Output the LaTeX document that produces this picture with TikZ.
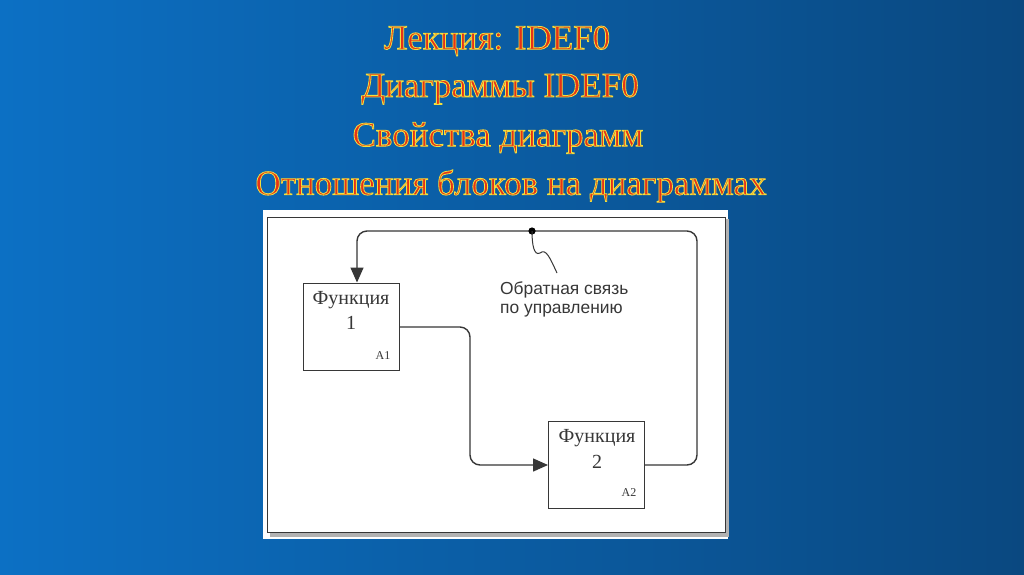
\documentclass[tikz,border=0pt]{standalone}
\usepackage{fontspec}
\setmainfont{Liberation Serif}
\newfontfamily\labelfont{Liberation Sans}
\usetikzlibrary{arrows.meta}

\definecolor{bgleft}{RGB}{12,112,196}
\definecolor{bgright}{RGB}{10,72,128}
\definecolor{titlered}{RGB}{230,50,22}
\definecolor{inkgray}{RGB}{55,55,55}

% red letters with a thin yellow outline (text render mode 2)
\newcommand\outlined[1]{\special{pdf:literal direct 2 Tr 0.8 w 0.95 0.88 0.24 RG}#1\special{pdf:literal direct 0 Tr}}

\begin{document}
\begin{tikzpicture}[
    x=1pt, y=-1pt,
    title/.style={font=\fontsize{35}{40}\selectfont, text=titlered, inner sep=0pt},
    block/.style={draw=inkgray, line width=1pt, fill=white, minimum width=96pt, minimum height=87pt, inner sep=0pt},
    blocktext/.style={font=\fontsize{20}{22}\selectfont, text=inkgray, inner sep=0pt},
    blockid/.style={font=\fontsize{12}{14}\selectfont, text=inkgray, inner sep=0pt},
    arrowline/.style={draw=inkgray, line width=1.4pt, rounded corners=10pt},
    tip/.style={-{Triangle[length=15pt,width=13pt]}}
]
\useasboundingbox (0,0) rectangle (1024,574);
\shade[left color=bgleft, right color=bgright] (0,0) rectangle (1024,574);

% titles
\node[title] (t1) at (497,41) {\outlined{Лекция: IDEF0}};
\node[title] (t2) at (500,89) {\outlined{Диаграммы IDEF0}};
\node[title] (t3) at (498,138) {\outlined{Свойства диаграмм}};
\node[title] (t4) at (511,186) {\outlined{Отношения блоков на диаграммах}};

% white sheet with frame
\fill[white] (263,210) rectangle (728,539);
\fill[gray!60] (270,532) rectangle (727,537);
\fill[gray!60] (725,219) rectangle (729,537);
\draw[inkgray, line width=1pt] (267,217) rectangle (725,532);

% blocks
\node[block] (f1) at (351,326.5) {};
\node[block] (f2) at (596.5,465) {};

\node[blocktext] (f1a) at (351,300) {Функция};
\node[blocktext] (f1b) at (351,323) {1};
\node[blockid] (f1c) at (383,356) {A1};
\node[blocktext] (f2a) at (597,438) {Функция};
\node[blocktext] (f2b) at (597,462) {2};
\node[blockid] (f2c) at (629,493) {A2};

% connectors
\coordinate (out1) at (f1.east |- 0,327);
\coordinate (in2) at (f2.west |- 0,465);
\coordinate (out2) at (f2.east |- 0,465);
\coordinate (in1) at (f1.north -| 357,0);
\coordinate (tap) at (532,231);

\draw[arrowline, tip] (out1) -- (470,327) -- (470,465) -- (in2);
\draw[arrowline, tip] (out2) -- (697,465) -- (697,231) -- (357,231) -- (in1);

\fill[black] (tap) circle (3.6pt);
\draw[inkgray, line width=1pt] (tap) .. controls (532,245) and (534,256) .. (540,253)
    .. controls (546,248) and (550,258) .. (557,273);

\node[font=\labelfont\fontsize{17.4}{19}\selectfont, text=inkgray, align=left, anchor=west, inner sep=0pt] (note) at (500,299) {Обратная связь\\по управлению};

\end{tikzpicture}
\end{document}
